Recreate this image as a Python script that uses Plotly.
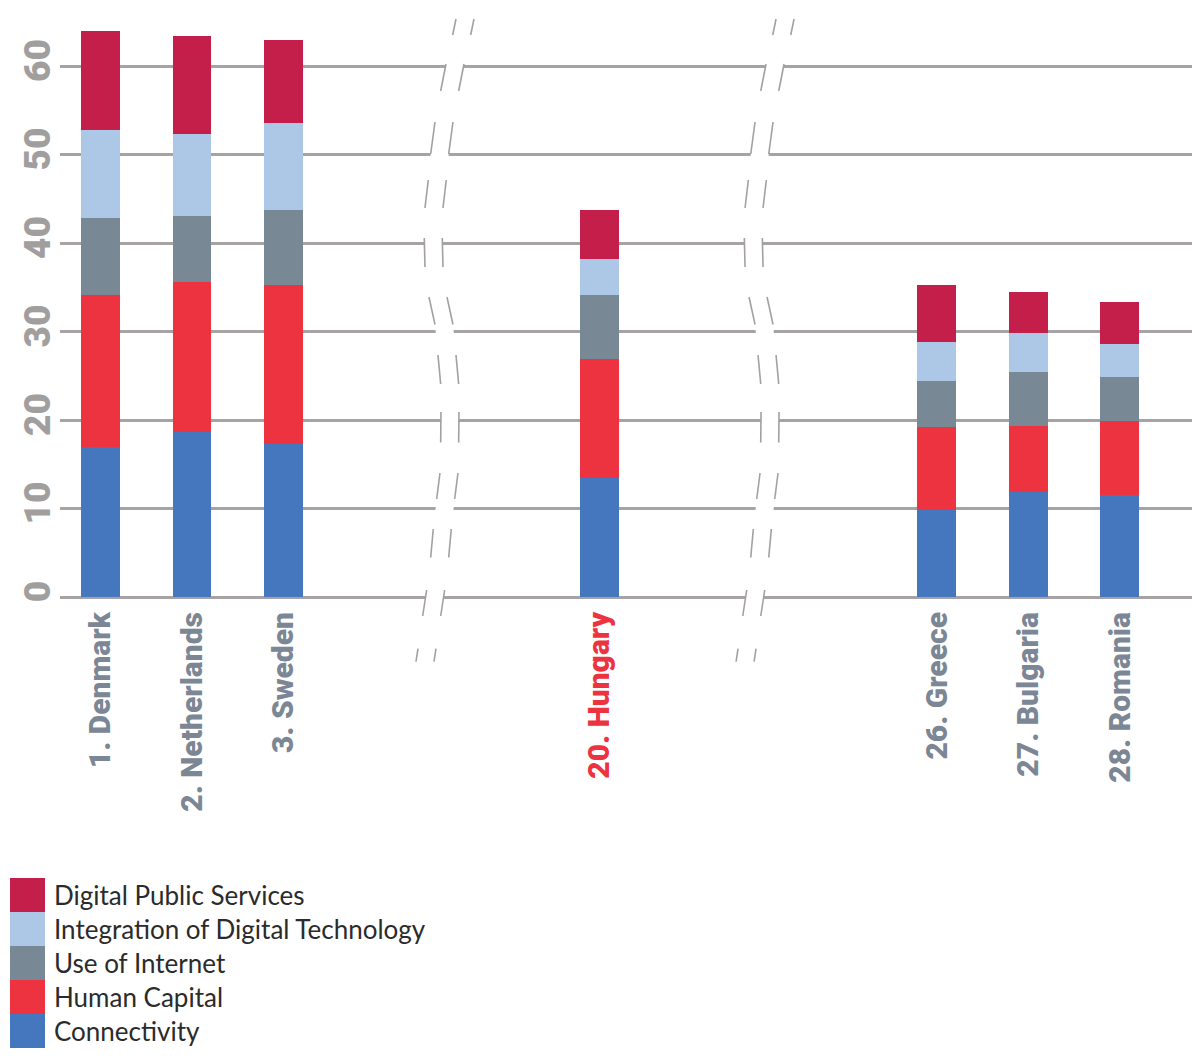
import plotly.graph_objects as go

# Digital Economy and Society Index – selected member states
countries = ["1. Denmark", "2. Netherlands", "3. Sweden", "20. Hungary",
             "26. Greece", "27. Bulgaria", "28. Romania"]
highlight = "20. Hungary"

series_names = ["Connectivity", "Human Capital", "Use of Internet",
                "Integration of Digital Technology", "Digital Public Services"]
connectivity = [16.95, 18.68, 17.32, 13.48, 9.83, 11.90, 11.53]
human_capital = [17.17, 16.91, 17.93, 13.41, 9.38, 7.46, 8.36]
use_of_internet = [8.70, 7.46, 8.48, 7.23, 5.20, 6.06, 4.97]
integration = [9.95, 9.27, 9.83, 4.04, 4.40, 4.41, 3.73]
public_services = [11.18, 11.07, 9.38, 5.57, 6.44, 4.63, 4.74]
series_values = [connectivity, human_capital, use_of_internet, integration, public_services]
series_colors = ["#4477bd", "#ee3340", "#788895", "#adc7e6", "#c41e4a"]

y_ticks = [0, 10, 20, 30, 40, 50, 60]

# ---- layout geometry (pixels) ----
W, H = 1192, 1056
ML, MR, MT, MB = 60, 0, 10, 459
PW, PH = W - ML - MR, H - MT - MB
UNIT = 91.5                      # px per slot on the broken x axis
slot_pos = [0, 1, 2, 5.45, 9.14, 10.14, 11.14]
x_min = -40.5 / UNIT
x_max = x_min + PW / UNIT
y_max = 66.33

GRID = "#a7a3a3"
LABEL = "#7b8794"
RED = "#ee3340"


def px_x(px):
    return (px - ML) / PW


def px_y(py):
    return (H - MB - py) / PH


fig = go.Figure()
for name, vals, col in zip(series_names, series_values, series_colors):
    fig.add_trace(go.Bar(
        x=slot_pos, y=vals, name=name, marker=dict(color=col, line=dict(width=0)),
        width=0.426, showlegend=False,
    ))

tick_text = [
    f"<span style='color:{RED}'>{c}</span>" if c == highlight else c
    for c in countries
]

shapes = []
annotations = []

# ---- axis breaks: a white band between two dashed wavy strokes ----
# stroke profile, offsets in px from the top of the left stroke
break_profile = [
    ((0, 19), (-3.3, 35)), ((-10, 64), (-15.3, 91)), ((-21, 122), (-25.3, 154)),
    ((-27.7, 180), (-31, 208)), ((-31.7, 238), (-31, 267)), ((-27, 297), (-21, 324.5)),
    ((-18, 355), (-15.3, 384)), ((-15, 412), (-15.3, 442.5)), ((-16, 473), (-19.3, 499)),
    ((-22.7, 529), (-25.3, 557.5)), ((-29.3, 590), (-33.3, 616)), ((-38, 648.6), (-40, 661.6)),
]
break_slots = [3.885, 7.383]
gap = 18
for bs in break_slots:
    x0px = ML + (bs - x_min) * UNIT
    pts = [p for seg in break_profile for p in seg]
    left = [(x0px + dx, y) for dx, y in pts]
    right = [(x0px + dx + gap, y) for dx, y in reversed(pts)]
    path = "M " + " L ".join(f"{px_x(a):.5f},{px_y(b):.5f}" for a, b in left + right) + " Z"
    shapes.append(dict(type="path", path=path, xref="paper", yref="paper",
                       fillcolor="white", line=dict(width=0), layer="above"))
    for off in (0, gap):
        for (ax, ay), (bx, by) in break_profile:
            shapes.append(dict(
                type="line", xref="paper", yref="paper",
                x0=px_x(x0px + ax + off), y0=px_y(ay),
                x1=px_x(x0px + bx + off), y1=px_y(by),
                line=dict(color="#a3a0a0", width=1.6), layer="above",
            ))

# ---- legend: large colour blocks, top entry last series ----
sw_left, sw_right, sw_top, sw_h = 10, 45, 878, 34
for i, (name, col) in enumerate(zip(reversed(series_names), reversed(series_colors))):
    top = sw_top + i * sw_h
    shapes.append(dict(type="rect", xref="paper", yref="paper",
                       x0=px_x(sw_left), x1=px_x(sw_right),
                       y0=px_y(top + sw_h), y1=px_y(top),
                       fillcolor=col, line=dict(width=0)))
    annotations.append(dict(
        text=name, xref="paper", yref="paper", x=px_x(52), y=px_y(top + sw_h / 2),
        xanchor="left", yanchor="middle", showarrow=False,
        font=dict(family="Lato", size=26, color="#2b2b2b"),
    ))

fig.update_layout(
    width=W, height=H, barmode="stack",
    margin=dict(l=ML, r=MR, t=MT, b=MB, autoexpand=False),
    paper_bgcolor="white", plot_bgcolor="white",
    shapes=shapes, annotations=annotations,
    xaxis=dict(
        range=[x_min, x_max], tickvals=slot_pos, ticktext=tick_text,
        tickangle=-90, showgrid=False, zeroline=False, showline=False,
        ticks="", ticklabelstandoff=8,
        tickfont=dict(family="Roboto", size=30, color=LABEL, weight=900),
    ),
    yaxis=dict(
        range=[0, y_max], tickvals=y_ticks, tickangle=-90,
        showgrid=True, gridcolor=GRID, gridwidth=2.5,
        zeroline=True, zerolinecolor=GRID, zerolinewidth=2.5,
        showline=False, ticks="", ticklabelstandoff=2,
        tickfont=dict(family="Roboto", size=37, color="#a19e9e", weight=900),
    ),
)

fig.write_html("out.html")
